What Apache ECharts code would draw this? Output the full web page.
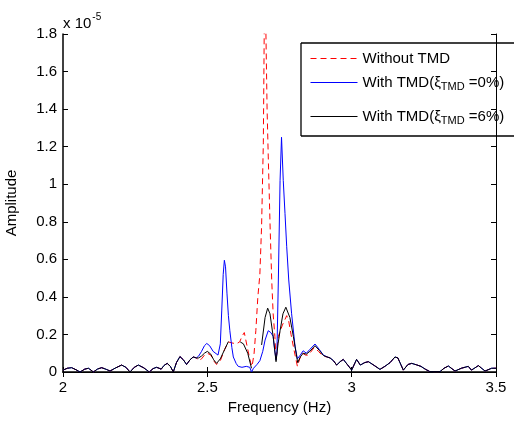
<!DOCTYPE html>
<html>
<head>
<meta charset="utf-8">
<script src="https://cdn.jsdelivr.net/npm/echarts@6/dist/echarts.min.js"></script>
<style>html,body{margin:0;padding:0;background:#fff;overflow:hidden}#c{width:514px;height:421px}</style>
</head>
<body>
<div id="c"></div>
<script>
// Amplitudes in units of 1e-5
const baseFreq = [2.000,2.015,2.030,2.045,2.059,2.075,2.088,2.097,2.105,2.120,2.134,2.150,2.163,2.180,2.203,2.218,2.232,2.247,2.261,2.280,2.299,2.312,2.324,2.333,2.340,2.350,2.361,2.372,2.382,2.393,2.405,2.417,2.428,2.440,2.451,2.462];
const baseAmp  = [0.010,0.020,0.023,0.012,0.000,0.015,0.020,0.010,0.000,0.016,0.023,0.014,0.005,0.020,0.037,0.025,0.000,0.025,0.037,0.022,0.000,0.018,0.025,0.020,0.015,0.035,0.046,0.030,0.000,0.050,0.082,0.065,0.040,0.065,0.080,0.075];

const tailFreq = [2.915,2.925,2.937,2.948,2.960,2.971,2.985,3.000,3.017,3.030,3.045,3.058,3.078,3.098,3.115,3.133,3.150,3.160,3.179,3.195,3.208,3.225,3.240,3.255,3.271,3.306,3.320,3.335,3.358,3.380,3.404,3.415,3.439,3.462,3.485,3.500];
const tailAmp  = [0.080,0.075,0.060,0.037,0.055,0.067,0.040,0.010,0.067,0.037,0.050,0.055,0.035,0.014,0.030,0.050,0.080,0.075,0.010,0.040,0.046,0.038,0.030,0.015,0.002,0.002,0.020,0.032,0.005,0.020,0.030,0.010,0.034,0.005,0.020,0.020];

const noTmdFreq = [2.470,2.480,2.490,2.500,2.512,2.522,2.532,2.545,2.560,2.573,2.585,2.600,2.612,2.620,2.628,2.640,2.650,2.655,2.662,2.668,2.675,2.682,2.688,2.694,2.697,2.700,2.703,2.707,2.711,2.717,2.723,2.728,2.734,2.738,2.746,2.760,2.775,2.782,2.790,2.800,2.812,2.820,2.830,2.840,2.850,2.870,2.885,2.900];
const noTmdAmp  = [0.060,0.070,0.090,0.100,0.090,0.060,0.040,0.060,0.120,0.160,0.155,0.150,0.160,0.190,0.210,0.120,0.050,0.030,0.100,0.220,0.400,0.520,0.780,1.220,1.800,2.200,1.800,1.400,1.150,0.800,0.490,0.310,0.190,0.060,0.190,0.250,0.300,0.270,0.200,0.120,0.030,0.070,0.100,0.090,0.090,0.130,0.110,0.085];

const tmd0Freq = [2.470,2.480,2.490,2.498,2.508,2.520,2.537,2.545,2.550,2.555,2.559,2.563,2.568,2.573,2.578,2.585,2.590,2.600,2.607,2.620,2.635,2.647,2.653,2.660,2.672,2.682,2.692,2.700,2.711,2.720,2.728,2.733,2.738,2.741,2.746,2.752,2.757,2.763,2.769,2.775,2.782,2.792,2.804,2.812,2.822,2.832,2.843,2.855,2.873,2.888,2.902];
const tmd0Amp  = [0.085,0.110,0.140,0.152,0.140,0.110,0.090,0.150,0.330,0.520,0.595,0.560,0.420,0.300,0.220,0.130,0.080,0.045,0.030,0.025,0.030,0.025,0.000,0.020,0.040,0.060,0.110,0.170,0.220,0.210,0.190,0.120,0.064,0.100,0.490,1.020,1.250,1.020,0.845,0.667,0.490,0.310,0.135,0.070,0.090,0.113,0.100,0.120,0.149,0.120,0.090];

const tmd6Freq = [2.470,2.480,2.490,2.500,2.512,2.522,2.532,2.545,2.560,2.573,2.580,2.614,2.625,2.640,2.653,2.660,2.688,2.700,2.709,2.717,2.728,2.738,2.745,2.752,2.762,2.772,2.786,2.798,2.813,2.822,2.832,2.843,2.855,2.873,2.888,2.902];
const tmd6Amp  = [0.075,0.085,0.100,0.110,0.095,0.065,0.046,0.070,0.120,0.162,null,0.160,0.150,0.100,0.020,null,0.144,0.290,0.340,0.310,0.190,0.055,0.150,0.220,0.310,0.345,0.290,0.190,0.050,0.080,0.100,0.095,0.110,0.140,0.115,0.088];

const seriesNames = ['Without TMD', 'With TMD(ξ_TMD =0%)', 'With TMD(ξ_TMD =6%)'];
const xTicks = {min: 2, max: 3.5, step: 0.5};
const yTicks = {min: 0, max: 1.8, step: 0.2};

function pairs(f, a) { return f.map((x, i) => [x, a[i]]); }
const dNo = pairs(baseFreq.concat(noTmdFreq, tailFreq), baseAmp.concat(noTmdAmp, tailAmp));
const d0  = pairs(baseFreq.concat(tmd0Freq, tailFreq), baseAmp.concat(tmd0Amp, tailAmp));
const d6  = pairs(baseFreq.concat(tmd6Freq, tailFreq), baseAmp.concat(tmd6Amp, tailAmp));

const FONT = "'Liberation Sans', Arial, sans-serif";
const chart = echarts.init(document.getElementById('c'));

const axisLine = {show: true, lineStyle: {color: '#000', width: 1}};
const tickIn = {show: true, inside: true, length: 5, lineStyle: {color: '#000', width: 1}};
const richLegend = {
  a: {fontSize: 15, fontFamily: FONT, color: '#000'},
  s: {fontSize: 11, fontFamily: FONT, color: '#000', padding: [9, 0, 0, 0]}
};
function fmtLegend(name) {
  if (name.indexOf('_') < 0) return '{a|' + name + '}';
  const m = name.match(/^(.*)_TMD(.*)$/);
  return '{a|' + m[1] + '}{s|TMD}{a|' + m[2] + '}';
}
function legendAt(name, top) {
  return {
    data: [name], left: 310, top: top, orient: 'vertical',
    itemWidth: 47, itemHeight: 14, itemGap: 0, padding: 0,
    formatter: fmtLegend,
    itemStyle: {color: 'rgba(0,0,0,0)', borderColor: 'rgba(0,0,0,0)', borderWidth: 0},
    lineStyle: {width: 1},
    textStyle: {fontFamily: FONT, fontSize: 15, color: '#000', rich: richLegend},
    selectedMode: false, z: 10
  };
}
const boxLine = {fill: null, stroke: '#000', lineWidth: 1.3};

chart.setOption({
  animation: false,
  backgroundColor: '#fff',
  grid: {left: 63, top: 34, width: 433, height: 338, containLabel: false, outerBoundsMode: 'none'},
  xAxis: [{
    type: 'value', min: xTicks.min, max: xTicks.max, interval: xTicks.step,
    position: 'bottom',
    name: 'Frequency (Hz)', nameLocation: 'middle', nameGap: 28,
    nameTextStyle: {fontFamily: FONT, fontSize: 15, color: '#000'},
    axisLine: {show: true, lineStyle: {color: '#000', width: 1.5}},
    axisTick: tickIn,
    axisLabel: {fontFamily: FONT, fontSize: 15, color: '#000', margin: 8,
      formatter: v => String(Math.round(v * 10) / 10)},
    splitLine: {show: false}
  }, {
    type: 'value', min: xTicks.min, max: xTicks.max, interval: xTicks.step,
    position: 'top', axisLine: axisLine, axisTick: tickIn,
    axisLabel: {show: false}, splitLine: {show: false}
  }],
  yAxis: [{
    type: 'value', min: yTicks.min, max: yTicks.max, interval: yTicks.step,
    position: 'left',
    name: 'Amplitude', nameLocation: 'middle', nameGap: 44,
    nameTextStyle: {fontFamily: FONT, fontSize: 15, color: '#000'},
    axisLine: {show: true, lineStyle: {color: '#000', width: 1.5}},
    axisTick: tickIn,
    axisLabel: {fontFamily: FONT, fontSize: 15, color: '#000', margin: 6,
      formatter: v => String(Math.round(v * 10) / 10)},
    splitLine: {show: false}
  }, {
    type: 'value', min: yTicks.min, max: yTicks.max, interval: yTicks.step,
    position: 'right', axisLine: axisLine, axisTick: tickIn,
    axisLabel: {show: false}, splitLine: {show: false}
  }],
  legend: [legendAt(seriesNames[0], 51), legendAt(seriesNames[1], 75), legendAt(seriesNames[2], 109)],
  graphic: [
    {type: 'rect', shape: {x: 301, y: 43, width: 213, height: 93},
     style: {fill: '#fff', stroke: null, lineWidth: 0}, z: 0, zlevel: 0},
    {type: 'line', shape: {x1: 301, y1: 43, x2: 514, y2: 43}, style: boxLine, z: 1},
    {type: 'line', shape: {x1: 301, y1: 136, x2: 514, y2: 136}, style: boxLine, z: 1},
    {type: 'line', shape: {x1: 301, y1: 43, x2: 301, y2: 136}, style: boxLine, z: 1},
    {type: 'text', left: 63, top: 12, style: {
      text: '{b|x 10}{p|-5}', rich: {
        b: {fontFamily: FONT, fontSize: 15, color: '#000', padding: [6, 0, 0, 0]},
        p: {fontFamily: FONT, fontSize: 10, color: '#000', padding: [0, 0, 8, 1]}
      }}}
  ],
  series: [
    {name: seriesNames[0], type: 'line', data: dNo, showSymbol: false, symbol: 'none',
     lineStyle: {color: '#ff0000', width: 1, type: [6, 4]}, itemStyle: {color: '#ff0000'}, z: 2},
    {name: seriesNames[1], type: 'line', data: d0, showSymbol: false, symbol: 'none',
     lineStyle: {color: '#0000ff', width: 1}, itemStyle: {color: '#0000ff'}, z: 3},
    {name: seriesNames[2], type: 'line', data: d6, showSymbol: false, symbol: 'none',
     lineStyle: {color: '#000', width: 1}, itemStyle: {color: '#000'}, z: 4}
  ]
});
</script>
</body>
</html>
